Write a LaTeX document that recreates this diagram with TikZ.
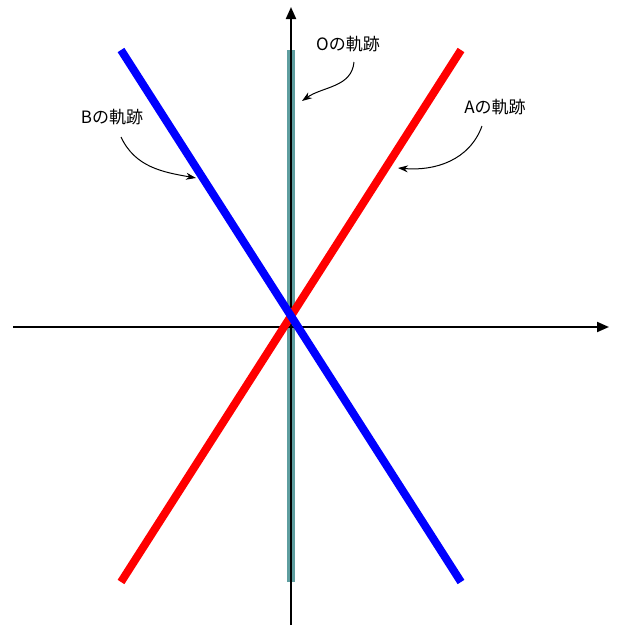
\documentclass[tikz,border=0pt]{standalone}
\usepackage{fontspec}
\setmainfont{Noto Sans CJK JP}
\usetikzlibrary{arrows.meta}
\definecolor{teal1}{RGB}{95,158,160}
\tikzset{
  axis/.style={line width=2pt,-{Triangle[length=12pt,width=10pt]}},
  locus/.style={line width=8pt},
  lbl/.style={font=\fontsize{17pt}{20pt}\selectfont,inner sep=0pt},
  callout/.style={line width=1pt,-{Stealth[length=10pt,width=7pt]}}
}
\begin{document}
\begin{tikzpicture}[x=1pt,y=-1pt]
\useasboundingbox (0,0) rectangle (621,627);
% loci end points
\coordinate (Ot) at (291,50);
\coordinate (Ob) at (291,582);
\coordinate (At) at (461,50);
\coordinate (Ab) at (121,582);
\coordinate (Bt) at (121,50);
\coordinate (Bb) at (461,582);
% axes end points
\coordinate (xl) at (13,327);
\coordinate (xr) at (609,327);
\coordinate (yb) at (291,625);
\coordinate (yt) at (291,7);
\draw[locus,teal1] (Ob) -- (Ot);
\draw[axis] (yb) -- (yt);
\draw[axis] (xl) -- (xr);
\draw[locus,red] (Ab) -- (At);
\draw[locus,blue] (Bt) -- (Bb);
% labels
\node[lbl] (Ol) at (348,44) {Oの軌跡};
\node[lbl] (Bl) at (112,117) {Bの軌跡};
\node[lbl] (Al) at (495,107) {Aの軌跡};
\coordinate (Os) at (354,62);
\coordinate (Bs) at (121,137);
\coordinate (As) at (482,126);
\coordinate (Oe) at (302,101);
\coordinate (Be) at (196,178);
\coordinate (Ae) at (398,168);
\draw[callout] (Os) to[out=-95,in=35] (Oe);
\draw[callout] (Bs) to[out=-65,in=170] (Be);
\draw[callout] (As) to[out=-110,in=-5] (Ae);
\end{tikzpicture}
\end{document}
